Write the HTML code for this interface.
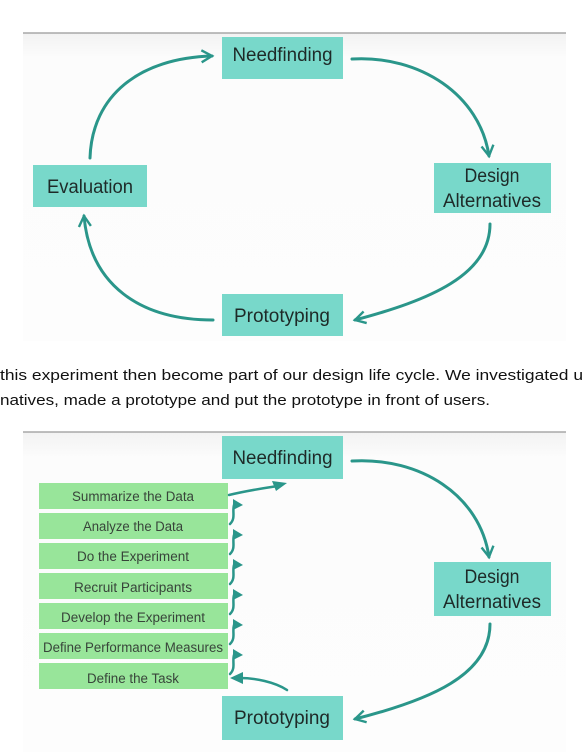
<!DOCTYPE html>
<html><head><meta charset="utf-8"><style>
html,body{margin:0;padding:0;background:#fff;width:583px;height:752px;overflow:hidden}
svg{display:block}
.b{font-family:"Liberation Sans",sans-serif;font-size:19px;fill:#1e2a28}
.g{font-family:"Liberation Sans",sans-serif;font-size:13.5px;fill:#38443a}
.t{font-family:"Liberation Sans",sans-serif;font-size:15px;fill:#111}
</style></head><body>
<svg width="583" height="752" viewBox="0 0 583 752" xmlns="http://www.w3.org/2000/svg">
<defs>
<linearGradient id="fr" x1="0" y1="0" x2="0" y2="1"><stop offset="0" stop-color="#f2f2f2"/><stop offset="0.08" stop-color="#fcfcfc"/><stop offset="1" stop-color="#fdfdfd"/></linearGradient>
<marker id="ah" viewBox="0 0 10 10" refX="8" refY="5" markerWidth="5" markerHeight="5" orient="auto"><path d="M1 1 L8 5 L1 9" fill="none" stroke="#2a968a" stroke-width="1.6"/></marker>
</defs>
<!-- frame 1 -->
<rect x="23" y="33" width="543" height="308" fill="url(#fr)"/>
<line x1="23" y1="33" x2="566" y2="33" stroke="#a8a8a8" stroke-width="1.5"/>
<!-- frame 2 -->
<rect x="23" y="432" width="543" height="320" fill="url(#fr)"/>
<line x1="23" y1="432" x2="566" y2="432" stroke="#a8a8a8" stroke-width="1.5"/>

<g fill="none" stroke="#2a968a" stroke-width="3" stroke-linecap="round">
<path d="M90 158 C92 95 140 58 212 56" marker-end="url(#ah)"/>
<path d="M352 59 C420 55 480 95 489 156" marker-end="url(#ah)"/>
<path d="M490 224 C490 275 430 300 355 320" marker-end="url(#ah)"/>
<path d="M213 320 C140 320 90 285 84 216" marker-end="url(#ah)"/>
<path d="M352 461 C420 457 480 495 489 557" marker-end="url(#ah)"/>
<path d="M490 624 C490 675 430 700 355 719" marker-end="url(#ah)"/>
</g>

<!-- top boxes -->
<rect x="222" y="37" width="121" height="42" fill="#78d8ca"/>
<text class="b" x="282.5" y="61" text-anchor="middle" textLength="100" lengthAdjust="spacingAndGlyphs">Needfinding</text>
<rect x="33" y="165" width="114" height="42" fill="#78d8ca"/>
<text class="b" x="90" y="193" text-anchor="middle" textLength="86" lengthAdjust="spacingAndGlyphs">Evaluation</text>
<rect x="434" y="163" width="117" height="50" fill="#78d8ca"/>
<text class="b" x="492" y="182" text-anchor="middle" textLength="55" lengthAdjust="spacingAndGlyphs">Design</text>
<text class="b" x="492" y="207" text-anchor="middle" textLength="98" lengthAdjust="spacingAndGlyphs">Alternatives</text>
<rect x="222" y="294" width="121" height="42" fill="#78d8ca"/>
<text class="b" x="282" y="322" text-anchor="middle" textLength="96" lengthAdjust="spacingAndGlyphs">Prototyping</text>

<!-- body text -->
<text class="t" x="0" y="380" textLength="583" lengthAdjust="spacingAndGlyphs">this experiment then become part of our design life cycle.  We investigated u</text>
<text class="t" x="0" y="405" textLength="490" lengthAdjust="spacingAndGlyphs">natives, made a prototype and  put the prototype in front of users.</text>

<!-- bottom boxes -->
<rect x="222" y="436" width="121" height="43" fill="#78d8ca"/>
<text class="b" x="282.5" y="464" text-anchor="middle" textLength="100" lengthAdjust="spacingAndGlyphs">Needfinding</text>
<rect x="434" y="562" width="117" height="54" fill="#78d8ca"/>
<text class="b" x="492" y="583" text-anchor="middle" textLength="55" lengthAdjust="spacingAndGlyphs">Design</text>
<text class="b" x="492" y="608" text-anchor="middle" textLength="98" lengthAdjust="spacingAndGlyphs">Alternatives</text>
<rect x="222" y="696" width="121" height="44" fill="#78d8ca"/>
<text class="b" x="282" y="724" text-anchor="middle" textLength="96" lengthAdjust="spacingAndGlyphs">Prototyping</text>

<g fill="#98e59a">
<rect x="39" y="483" width="189" height="26"/>
<rect x="39" y="513" width="189" height="26"/>
<rect x="39" y="543" width="189" height="26"/>
<rect x="39" y="573" width="189" height="26"/>
<rect x="39" y="603" width="189" height="26"/>
<rect x="39" y="633" width="189" height="26"/>
<rect x="39" y="663" width="189" height="26"/>
</g>
<g class="g" text-anchor="middle">
<text x="133" y="501" textLength="122" lengthAdjust="spacingAndGlyphs">Summarize the Data</text>
<text x="133" y="531" textLength="100" lengthAdjust="spacingAndGlyphs">Analyze the Data</text>
<text x="133" y="561" textLength="112" lengthAdjust="spacingAndGlyphs">Do the Experiment</text>
<text x="133" y="592" textLength="118" lengthAdjust="spacingAndGlyphs">Recruit Participants</text>
<text x="133" y="622" textLength="144" lengthAdjust="spacingAndGlyphs">Develop the Experiment</text>
<text x="133" y="652" textLength="180" lengthAdjust="spacingAndGlyphs">Define Performance Measures</text>
<text x="133" y="683" textLength="92" lengthAdjust="spacingAndGlyphs">Define the Task</text>
</g>

<!-- small arrows -->
<g fill="none" stroke="#2a968a" stroke-width="2.5" stroke-linecap="round">
<path d="M229 495 C250 490 265 488 278 486"/>
<path d="M287 690 C275 682 255 678 240 678"/>
<path d="M230 524 C236 518 232 512 234 505"/>
<path d="M230 554 C236 548 232 542 234 535"/>
<path d="M230 584 C236 578 232 572 234 565"/>
<path d="M230 614 C236 608 232 602 234 595"/>
<path d="M230 644 C236 638 232 632 234 625"/>
<path d="M230 674 C236 668 232 662 234 655"/>
</g>
<g fill="#2a968a">
<polygon points="272,481 287,483 276,491"/>
<polygon points="230,678 243,672 243,684"/>
<polygon points="233,499 243,505 233,510"/>
<polygon points="233,529 243,535 233,540"/>
<polygon points="233,559 243,565 233,570"/>
<polygon points="233,589 243,595 233,600"/>
<polygon points="233,619 243,625 233,630"/>
<polygon points="233,649 243,655 233,660"/>
</g>
</svg>
</body></html>
